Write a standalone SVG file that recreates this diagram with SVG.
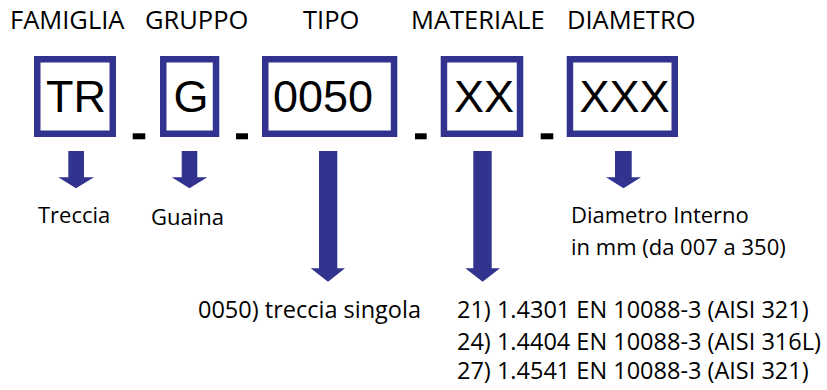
<svg xmlns="http://www.w3.org/2000/svg" width="827" height="390" viewBox="0 0 827 390">
<style>
.hdr{font-family:"Open Sans","Liberation Sans",sans-serif;font-size:25.5px;fill:#000}
.lbl{font-family:"Open Sans","Liberation Sans",sans-serif;font-size:22px;fill:#000}
.num{font-size:23.5px}
.code{font-family:"Liberation Sans",Arial,sans-serif;font-size:45px;fill:#000;text-anchor:middle}
.box{fill:#fff;stroke:#31338F;stroke-width:6.5}
.arr{fill:#31338F}
.dash{fill:#000}
</style>
<rect width="827" height="390" fill="#fff"/>
<g id="headers">
<text class="hdr" x="10" y="29">FAMIGLIA</text>
<text class="hdr" x="145" y="29">GRUPPO</text>
<text class="hdr" x="303" y="29">TIPO</text>
<text class="hdr" x="411" y="29">MATERIALE</text>
<text class="hdr" x="567" y="29">DIAMETRO</text>
</g>
<g id="famiglia">
<rect class="box" x="37.25" y="59.25" width="75.5" height="74.5"/>
<text class="code" x="76" y="112">TR</text>
</g>
<g id="gruppo">
<rect class="box" x="163.25" y="59.25" width="52.8" height="74.5"/>
<text class="code" x="191" y="112">G</text>
</g>
<g id="tipo">
<rect class="box" x="265.25" y="59.25" width="128.8" height="74.5"/>
<text class="code" x="323" y="112">0050</text>
</g>
<g id="materiale">
<rect class="box" x="443.95" y="59.25" width="76.1" height="74.5"/>
<text class="code" x="484" y="112">XX</text>
</g>
<g id="diametro">
<rect class="box" x="569.95" y="59.25" width="104.8" height="74.5"/>
<text class="code" x="624.5" y="112">XXX</text>
</g>
<g id="dashes">
<rect class="dash" x="132.7" y="133.3" width="12.6" height="6"/>
<rect class="dash" x="236" y="133.3" width="12" height="6"/>
<rect class="dash" x="415" y="133.3" width="11.7" height="6"/>
<rect class="dash" x="540.7" y="133.3" width="12.6" height="6"/>
</g>
<g id="connectors">
<polygon class="arr" points="68.3,151 84,151 84,177.3 94,177.3 76,188.3 58.3,177.3 68.3,177.3"/>
<polygon class="arr" points="181.7,151 197.3,151 197.3,177.3 207.3,177.3 189.5,188.3 171.7,177.3 181.7,177.3"/>
<polygon class="arr" points="319,151 337.3,151 337.3,268.3 345,268.3 328,281.7 310.7,268.3 319,268.3"/>
<polygon class="arr" points="473.3,151 491.7,151 491.7,268.3 500,268.3 482.6,281.7 465.3,268.3 473.3,268.3"/>
<polygon class="arr" points="615,151 631.7,151 631.7,177.3 641,177.3 623.5,188.3 606,177.3 615,177.3"/>
</g>
<g id="labels">
<text class="lbl" x="38" y="223">Treccia</text>
<text class="lbl" x="151" y="225">Guaina</text>
<text class="lbl num" x="198" y="318">0050) treccia singola</text>
<text class="lbl" x="571" y="223">Diametro Interno</text>
<text class="lbl" x="571" y="255">in mm (da 007 a 350)</text>
<text class="lbl num" x="457" y="318">21) 1.4301 EN 10088-3 (AISI 321)</text>
<text class="lbl num" x="457" y="350">24) 1.4404 EN 10088-3 (AISI 316L)</text>
<text class="lbl num" x="457" y="379">27) 1.4541 EN 10088-3 (AISI 321)</text>
</g>
</svg>
